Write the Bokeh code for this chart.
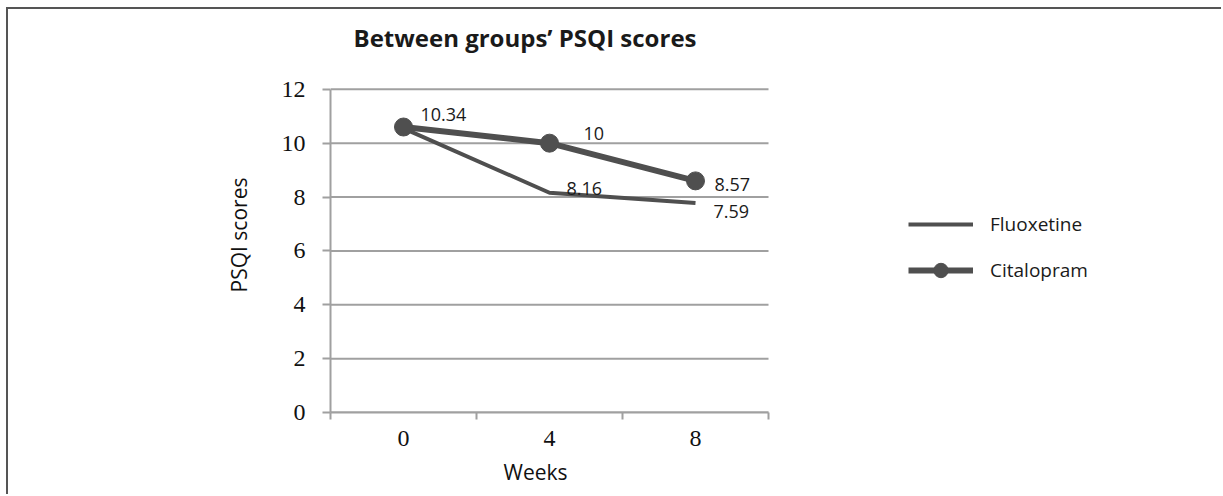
from bokeh.plotting import figure
from bokeh.models import Range1d, FixedTicker, Legend, LegendItem, Title, ColumnDataSource
from bokeh.core.properties import value
from bokeh.embed import file_html
from bokeh.resources import INLINE

# ---- data ----
weeks = [0, 4, 8]
fluoxetine = [10.55, 8.16, 7.78]
citalopram = [10.6, 10.0, 8.6]
fluoxetine_labels = ["10.34", "8.16", "7.59"]
citalopram_labels = ["", "10", "8.57"]
y_ticks = [0, 2, 4, 6, 8, 10, 12]
x_bounds = [-2, 2, 6, 10]
title_text = "Between groups\u2019 PSQI scores"
x_title = "Weeks"
y_title = "PSQI scores"

# ---- layout / style ----
flu_dx = [17, 17, 18]
flu_dy = [-14, -4, 9]
cit_dx = [17, 34, 19]
cit_dy = [-14, -10, 4]

SANS = "Open Sans"
SERIF = "Liberation Serif"
GRID = "#a0a0a0"
LINE = "#4f4f4f"

W, H = 1215, 487
LEFT, TOP, BOTTOM = 322, 48, 84
PX_X = 438 / 12.0          # pixels per week
PX_Y = 324 / 12.03         # pixels per score unit
x_end = x_bounds[0] + (W - LEFT) / PX_X
y_end = (H - TOP - BOTTOM) / PX_Y

p = figure(width=W, height=H,
           x_range=Range1d(x_bounds[0], x_end), y_range=Range1d(0, y_end),
           output_backend="svg", toolbar_location=None,
           min_border_left=LEFT, min_border_right=0,
           min_border_top=TOP, min_border_bottom=BOTTOM)
p.styles = {"margin-left": "8px", "margin-top": "9px",
            "box-shadow": "-2px -2px 0 0 #555555"}
p.outline_line_color = None
p.background_fill_color = "white"
p.border_fill_color = "white"

p.title = Title(text=title_text, align="left", offset=23,
                text_font=SANS, text_font_size="24px", text_font_style="bold",
                text_color="#1a1a1a", standoff=8)

# axes
xa = p.xaxis[0]
xa.bounds = (x_bounds[0], x_bounds[-1])
xa.ticker = FixedTicker(ticks=weeks, minor_ticks=x_bounds)
xa.major_tick_out = 0
xa.major_tick_in = 0
xa.minor_tick_out = 7
xa.minor_tick_in = 0
xa.minor_tick_line_color = GRID
xa.minor_tick_line_width = 2
xa.axis_line_color = GRID
xa.axis_line_width = 2
xa.major_label_text_font = SERIF
xa.major_label_text_font_size = "24px"
xa.major_label_text_color = "#111111"
xa.major_label_standoff = 11
xa.axis_label = None

# x-axis title placed under the category span
p.add_layout(Title(text=x_title, align="left", offset=173,
                   text_font=SANS, text_font_size="21px", text_font_style="normal",
                   text_color="#111111", standoff=14), "below")

ya = p.yaxis[0]
ya.bounds = (y_ticks[0], y_ticks[-1])
ya.ticker = FixedTicker(ticks=y_ticks)
ya.major_tick_out = 8
ya.major_tick_in = 0
ya.major_tick_line_color = GRID
ya.major_tick_line_width = 2
ya.minor_tick_line_color = None
ya.axis_line_color = GRID
ya.axis_line_width = 2
ya.major_label_text_font = SERIF
ya.major_label_text_font_size = "24px"
ya.major_label_text_color = "#111111"
ya.major_label_standoff = 17
ya.axis_label = y_title
ya.axis_label_text_font = SANS
ya.axis_label_text_font_size = "21px"
ya.axis_label_text_font_style = "normal"
ya.axis_label_text_color = "#111111"
ya.axis_label_standoff = 26

p.xgrid.grid_line_color = None
p.ygrid.grid_line_color = None

# horizontal gridlines limited to the category span
grid_src = ColumnDataSource(dict(x0=[x_bounds[0]] * len(y_ticks), x1=[x_bounds[-1]] * len(y_ticks),
                                 y=y_ticks))
p.segment(x0="x0", y0="y", x1="x1", y1="y", source=grid_src,
          line_color=GRID, line_width=2, level="underlay")

flu_src = ColumnDataSource(dict(x=weeks, y=fluoxetine, t=fluoxetine_labels, dx=flu_dx, dy=flu_dy))
cit_src = ColumnDataSource(dict(x=weeks, y=citalopram, t=citalopram_labels, dx=cit_dx, dy=cit_dy))

r_flu = p.line("x", "y", source=flu_src, line_color=LINE, line_width=4)
r_cit = p.line("x", "y", source=cit_src, line_color=LINE, line_width=6)
r_cit_m = p.scatter("x", "y", source=cit_src, marker="circle", size=18,
                    fill_color=LINE, line_color=LINE)

for src in (flu_src, cit_src):
    p.text("x", "y", text="t", source=src, x_offset="dx", y_offset="dy",
           text_font=value(SANS), text_font_size="18px", text_color="#1a1a1a",
           text_align="left", text_baseline="middle")

legend = Legend(items=[LegendItem(label="Fluoxetine", renderers=[r_flu]),
                       LegendItem(label="Citalopram", renderers=[r_cit, r_cit_m])],
                location=(578, 124), orientation="vertical",
                glyph_width=65, glyph_height=36, label_height=36, spacing=10,
                label_standoff=17, padding=0, margin=0,
                border_line_color=None, background_fill_alpha=0,
                label_text_font=SANS, label_text_font_size="19px",
                label_text_color="#1a1a1a", label_text_baseline="middle")
p.add_layout(legend, "center")

open("out.html", "w").write(file_html(p, INLINE))
